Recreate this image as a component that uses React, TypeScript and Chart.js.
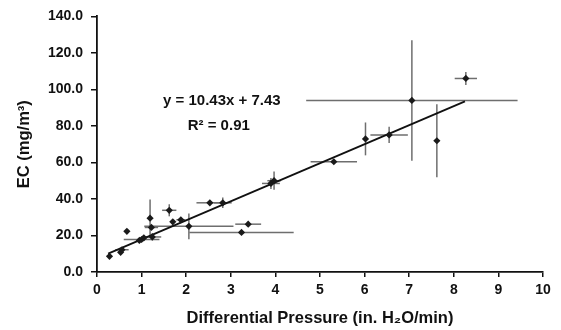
import React, { useEffect, useRef } from "react";
import { Chart, registerables } from "chart.js";

Chart.register(...registerables);

// Measured points: differential pressure (x) vs EC (y)
const xValues = [0.28, 0.53, 0.56, 0.67, 0.95, 1.0, 1.05, 1.19, 1.22, 1.24, 1.62, 1.7, 1.88, 2.06, 2.53, 2.82, 3.24, 3.39, 3.9, 3.97, 5.31, 6.02, 6.55, 7.06, 7.62, 8.27];
const yValues = [8.6, 10.8, 12.2, 22.3, 17.3, 17.8, 18.7, 29.5, 24.4, 19.2, 33.8, 27.5, 28.6, 25.0, 37.9, 37.9, 21.7, 26.2, 48.5, 50.0, 60.4, 72.9, 75.1, 94.0, 71.9, 106.0];
const xErrors = [0, 0, 0.15, 0, 0, 0.4, 0, 0, 0.15, 0.2, 0.16, 0, 0.1, 1.0, 0.3, 0.2, 1.17, 0.29, 0.2, 0.15, 0.52, 0, 0.42, 2.37, 0, 0.25];
const yErrors = [0, 0, 0, 0, 0, 0, 0, 10.2, 0, 2.0, 3.3, 0, 0, 7.0, 0, 2.9, 0, 0, 3.0, 5.0, 0, 9.0, 4.5, 33.0, 20.0, 3.6];

// Linear fit y = 10.43x + 7.43, endpoints
const trendX = [0.25, 8.25];
const trendY = [10.04, 93.48];

const equationLines = ["y = 10.43x + 7.43", "R² = 0.91"];
const equationX = [2.8, 2.73];
const equationY = [93.8, 80.3];

const xTicksMin = 0;
const xTicksMax = 10;
const yTicksMin = 0;
const yTicksMax = 140;

const FONT = "'Liberation Sans', Arial, sans-serif";

const errorBarPlugin = {
  id: "errorBars",
  beforeDatasetsDraw(chart: any) {
    const xs = chart.scales.x;
    const ys = chart.scales.y;
    const ctx = chart.ctx;
    ctx.save();
    ctx.strokeStyle = "#6e6e6e";
    ctx.lineWidth = 1.5;
    for (let i = 0; i < xValues.length; i++) {
      const px = xs.getPixelForValue(xValues[i]);
      const py = ys.getPixelForValue(yValues[i]);
      if (xErrors[i] > 0) {
        ctx.beginPath();
        ctx.moveTo(xs.getPixelForValue(xValues[i] - xErrors[i]), py);
        ctx.lineTo(xs.getPixelForValue(xValues[i] + xErrors[i]), py);
        ctx.stroke();
      }
      if (yErrors[i] > 0) {
        ctx.beginPath();
        ctx.moveTo(px, ys.getPixelForValue(yValues[i] - yErrors[i]));
        ctx.lineTo(px, ys.getPixelForValue(yValues[i] + yErrors[i]));
        ctx.stroke();
      }
    }
    ctx.restore();
  },
  afterDatasetsDraw(chart: any) {
    const xs = chart.scales.x;
    const ys = chart.scales.y;
    const ctx = chart.ctx;
    ctx.save();
    ctx.fillStyle = "#111";
    ctx.font = `bold 15px ${FONT}`;
    ctx.textAlign = "center";
    ctx.textBaseline = "middle";
    for (let i = 0; i < equationLines.length; i++) {
      ctx.fillText(equationLines[i], xs.getPixelForValue(equationX[i]), ys.getPixelForValue(equationY[i]));
    }
    ctx.restore();
  },
};

export default function App() {
  const ref = useRef<HTMLCanvasElement | null>(null);
  useEffect(() => {
    if (!ref.current) return;
    const points = xValues.map((x, i) => ({ x, y: yValues[i] }));
    const trend = trendX.map((x, i) => ({ x, y: trendY[i] }));
    const chart = new Chart(ref.current, {
      type: "scatter",
      data: {
        datasets: [
          {
            type: "line",
            data: trend,
            borderColor: "#111",
            borderWidth: 1.8,
            pointRadius: 0,
            fill: false,
            order: 2,
          } as any,
          {
            type: "scatter",
            data: points,
            pointStyle: "rectRot",
            pointRadius: 3.6,
            backgroundColor: "#1a1a1a",
            borderColor: "#1a1a1a",
            borderWidth: 0,
            order: 1,
          },
        ],
      },
      options: {
        animation: false,
        responsive: true,
        maintainAspectRatio: false,
        layout: { padding: { top: 9, right: 18, left: 0, bottom: 0 } },
        plugins: { legend: { display: false }, tooltip: { enabled: false } },
        scales: {
          x: {
            type: "linear",
            min: xTicksMin,
            max: xTicksMax,
            afterFit: (s: any) => {
              s.height = 58;
            },
            ticks: {
              stepSize: 1,
              color: "#111",
              padding: 5,
              font: { family: FONT, size: 14, weight: "bold" },
              callback: (v: any) => String(v),
            },
            grid: { display: true, drawOnChartArea: false, drawTicks: true, tickLength: 5, color: "#111", lineWidth: 1.5 },
            border: { display: true, color: "#111", width: 1.8 },
            title: {
              display: true,
              text: "Differential Pressure (in. H₂O/min)",
              color: "#111",
              font: { family: FONT, size: 16.5, weight: "bold" },
              padding: { top: 4, bottom: 2 },
            },
          },
          y: {
            type: "linear",
            min: yTicksMin,
            max: yTicksMax,
            afterFit: (s: any) => {
              s.width = 97;
            },
            ticks: {
              stepSize: 20,
              color: "#111",
              padding: 8,
              font: { family: FONT, size: 14, weight: "bold" },
              callback: (v: any) => Number(v).toFixed(1),
            },
            grid: { display: true, drawOnChartArea: false, drawTicks: true, tickLength: 6, color: "#111", lineWidth: 1.5 },
            border: { display: true, color: "#111", width: 1.8 },
            title: {
              display: true,
              text: "EC (mg/m³)",
              color: "#111",
              font: { family: FONT, size: 16.5, weight: "bold" },
              padding: { top: 15, bottom: 0 },
            },
          },
        },
      },
      plugins: [errorBarPlugin],
    });
    return () => chart.destroy();
  }, []);
  return (
    <div style={{ position: "fixed", left: 0, top: 0, width: 561, height: 330, background: "#fff" }}>
      <canvas ref={ref} />
    </div>
  );
}
